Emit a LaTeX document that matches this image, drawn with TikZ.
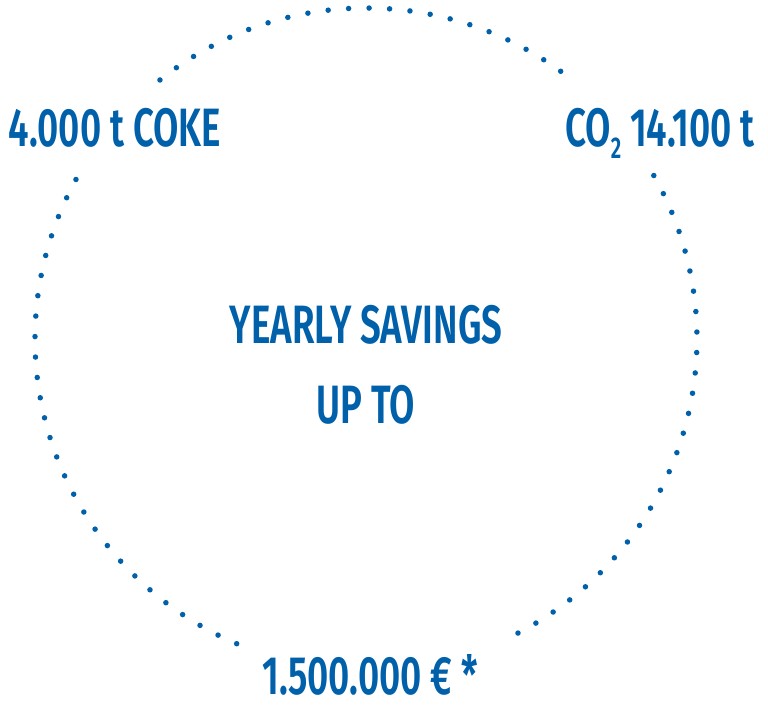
\documentclass[tikz,border=0pt]{standalone}
\usepackage{fontspec}
\setmainfont{Fira Sans SemiBold}[FakeStretch=0.68,BoldFont={Fira Sans SemiBold},BoldFeatures={FakeStretch=0.68}]
\definecolor{blu}{HTML}{0060AA}
\begin{document}
\begin{tikzpicture}[x=1pt,y=-1pt,
  dots/.style={blu,line width=5.5pt,line cap=round,dash pattern=on 0pt off 20.5pt},
  lab/.style={text=blu,font=\fontsize{54}{54}\selectfont,inner sep=0pt,anchor=base}]
\useasboundingbox (0,0) rectangle (768,710);
\coordinate (c) at (366,339);
\draw[dots] (c) ++(128.5:331 and -331) arc[start angle=-128.5,end angle=-51,radius=331];
\draw[dots] (c) ++(-29.6:331) arc[start angle=-29.6,end angle=64,radius=331];
\draw[dots] (c) ++(113:331) arc[start angle=113,end angle=210,radius=331];
\node[lab] (coke) at (115,146) {4.000 t COKE};
\node[lab] (co2) at (660,146) {CO\raisebox{-12pt}{\fontsize{30}{30}\selectfont 2} 14.100 t};
\node[lab] (eur) at (370,694) {1.500.000 € *};
\node[lab] (t1) at (366,343) {YEARLY SAVINGS};
\node[lab] (t2) at (366,423) {UP TO};
\end{tikzpicture}
\end{document}
